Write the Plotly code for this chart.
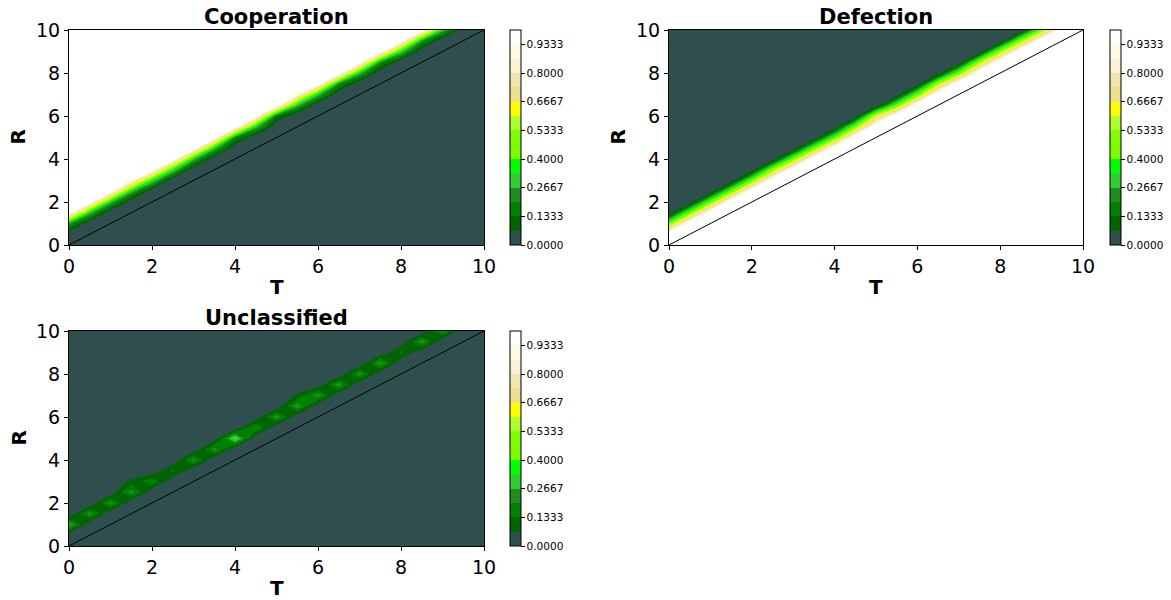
import plotly.graph_objects as go

# ---- data ----
T_vals = [0.0, 0.5, 1.0, 1.5, 2.0, 2.5, 3.0, 3.5, 4.0, 4.5, 5.0,
          5.5, 6.0, 6.5, 7.0, 7.5, 8.0, 8.5, 9.0, 9.5, 10.0]
R_vals = [0.0, 0.5, 1.0, 1.5, 2.0, 2.5, 3.0, 3.5, 4.0, 4.5, 5.0,
          5.5, 6.0, 6.5, 7.0, 7.5, 8.0, 8.5, 9.0, 9.5, 10.0]

# values on the grid points R = T + 1 (one per T column, T = 0 .. 9)
coop_diag = [0.25, 0.30, 0.30, 0.30, 0.35, 0.35, 0.30, 0.30, 0.20, 0.30,
             0.15, 0.30, 0.30, 0.22, 0.30, 0.22, 0.33, 0.25, 0.30]
unc_diag = [0.29, 0.24, 0.24, 0.24, 0.19, 0.15, 0.23, 0.24, 0.38, 0.22,
            0.25, 0.26, 0.25, 0.25, 0.24, 0.26, 0.15, 0.25, 0.22]
# unclassified share on the grid points R = T + 1.5
unc_above = [0.0, 0.0, 0.0, 0.085, 0.0, 0.0, 0.0, 0.0, 0.0, 0.0, 0.0,
             0.08, 0.0, 0.0, 0.0, 0.0, 0.0, 0.0, 0.0, 0.0, 0.0]

cbar_ticks = [0.0, 2 / 15, 4 / 15, 6 / 15, 8 / 15, 10 / 15, 12 / 15, 14 / 15]
axis_ticks = [0, 2, 4, 6, 8, 10]

band_colors = ['#2f4f4f', '#006400', '#008000', '#228b22', '#32cd32',
               '#00ff00', '#7cfc00', '#7fff00', '#adff2f', '#ffff00',
               '#eee08e', '#efe6b2', '#f8f3d2', '#fdfbe4', '#ffffff']

# ---- build the grids ----
n = len(T_vals)
coop = [[0.0] * n for _ in range(n)]
unc = [[0.0] * n for _ in range(n)]
defe = [[0.0] * n for _ in range(n)]
for j in range(n):
    for i in range(n):
        k = j - i
        if k < 2:
            c, u = 0.0, 0.0
        elif k == 2:
            c, u = coop_diag[i], unc_diag[i]
        else:
            u = unc_above[i] if k == 3 else 0.0
            c = 1.0 - u
        coop[j][i] = c
        unc[j][i] = u
        defe[j][i] = max(0.0, 1.0 - c - u)

nb = len(band_colors)
cscale = []
for b, col in enumerate(band_colors):
    cscale.append([b / nb, col])
    cscale.append([(b + 1) / nb, col])

W, H = 1171, 600
def px(x):
    return x / W
def py(y):
    return 1 - y / H

panels = [
    # name, z, xaxis, yaxis, x0, x1, y0, y1 (pixels), colorbar x
    ('Cooperation', coop, 'x', 'y', 69, 484, 30, 245, 510),
    ('Defection', defe, 'x2', 'y2', 669, 1083, 30, 245, 1110),
    ('Unclassified', unc, 'x3', 'y3', 69, 484, 331, 546, 510),
]

fig = go.Figure()
annotations = []
layout_axes = {}
for idx, (name, z, xa, ya, x0, x1, y0, y1, cbx) in enumerate(panels):
    fig.add_trace(go.Contour(
        x=T_vals, y=R_vals, z=z, xaxis=xa, yaxis=ya,
        autocontour=False,
        contours=dict(start=1 / 15, end=14 / 15, size=1 / 15,
                      coloring='fill', showlines=False),
        line=dict(width=0, smoothing=0),
        colorscale=cscale, zmin=0, zmax=1, zauto=False,
        showscale=False, hoverinfo='skip'))
    fig.add_trace(go.Scatter(
        x=[T_vals[0], T_vals[-1]], y=[R_vals[0], R_vals[-1]],
        xaxis=xa, yaxis=ya, mode='lines',
        line=dict(color='black', width=1), showlegend=False,
        hoverinfo='skip'))
    fig.add_trace(go.Scatter(
        x=[T_vals[0], T_vals[0]], y=[R_vals[0], R_vals[0]],
        xaxis=xa, yaxis=ya, mode='markers', showlegend=False,
        hoverinfo='skip',
        marker=dict(color=[0, 1], colorscale=cscale, cmin=0, cmax=1,
                    size=1, opacity=0, showscale=True,
                    colorbar=dict(
                        x=px(cbx), xanchor='left', xpad=0, ypad=0,
                        y=py((y0 + y1) / 2), yanchor='middle',
                        len=y1 - y0, lenmode='pixels',
                        thickness=11, thicknessmode='pixels',
                        outlinewidth=1, outlinecolor='black',
                        tickvals=cbar_ticks,
                        ticktext=['%.4f' % v for v in cbar_ticks],
                        ticks='outside', ticklen=3.5, tickcolor='black',
                        tickfont=dict(family='DejaVu Sans', size=10.5,
                                      color='black')))))
    sfx = '' if idx == 0 else str(idx + 1)
    common = dict(range=[0, 10], autorange=False, tickvals=axis_ticks,
                  showline=True, mirror=True, linecolor='black',
                  linewidth=1, ticks='outside', ticklen=4,
                  tickcolor='black', showgrid=False, zeroline=False,
                  tickfont=dict(family='DejaVu Sans', size=19,
                                color='black'))
    layout_axes['xaxis' + sfx] = dict(common, domain=[px(x0), px(x1)],
                                      anchor='y' + sfx)
    layout_axes['yaxis' + sfx] = dict(common, domain=[py(y1), py(y0)],
                                      anchor='x' + sfx)
    annotations.append(dict(text='<b>%s</b>' % name, x=px((x0 + x1) / 2),
                            y=py(y0 - 13), xref='paper', yref='paper',
                            showarrow=False, xanchor='center',
                            yanchor='middle',
                            font=dict(family='DejaVu Sans', size=21,
                                      color='black')))
    annotations.append(dict(text='<b>T</b>', x=px((x0 + x1) / 2),
                            y=py(y1 + 42), xref='paper', yref='paper',
                            showarrow=False, xanchor='center',
                            yanchor='middle',
                            font=dict(family='DejaVu Sans', size=20,
                                      color='black')))
    annotations.append(dict(text='<b>R</b>', x=px(x0 - 51),
                            y=py((y0 + y1) / 2), xref='paper', yref='paper',
                            showarrow=False, xanchor='center',
                            yanchor='middle', textangle=-90,
                            font=dict(family='DejaVu Sans', size=20,
                                      color='black')))

fig.update_layout(width=W, height=H,
                  margin=dict(l=0, r=0, t=0, b=0, autoexpand=False),
                  paper_bgcolor='white', plot_bgcolor='white',
                  showlegend=False, annotations=annotations,
                  font=dict(family='DejaVu Sans', color='black'),
                  **layout_axes)
fig.write_html('out.html', config={'displayModeBar': False},
               post_script="document.body.style.margin='0';"
                           "document.body.style.overflow='hidden';")
